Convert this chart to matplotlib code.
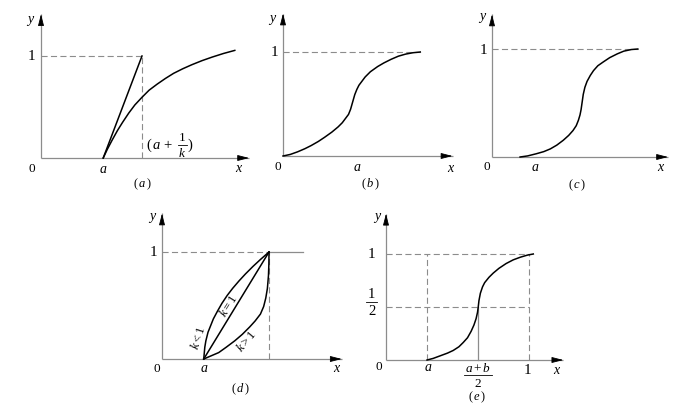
import matplotlib
matplotlib.use("Agg")
import matplotlib.pyplot as plt

plt.rcParams['font.family'] = 'Liberation Serif'
plt.rcParams['mathtext.fontset'] = 'custom'
plt.rcParams['mathtext.rm'] = 'Liberation Serif'
plt.rcParams['mathtext.it'] = 'Liberation Serif:italic'

W, H = 696, 410

# (a) exponential-type curve and the straight line to (a+1/k, 1)
a_pos = 0.61
ak_pos = 0.99
a_curve_x = [0.61, 0.65, 0.70, 0.75, 0.80, 0.86, 0.92, 0.99, 1.06, 1.14, 1.22, 1.30,
             1.39, 1.48, 1.58, 1.68, 1.79, 1.90]
a_curve_y = [0.0, 0.085, 0.18, 0.27, 0.35, 0.44, 0.52, 0.595, 0.665, 0.725, 0.78, 0.83,
             0.875, 0.915, 0.955, 0.99, 1.025, 1.055]

# (b) S-curve starting at origin
b_a = 0.71
b_x = [0.0, 0.07, 0.14, 0.21, 0.27, 0.34, 0.40, 0.47, 0.53, 0.57, 0.60, 0.63, 0.65,
       0.67, 0.69, 0.71, 0.73, 0.76, 0.79, 0.84, 0.91, 0.97, 1.04, 1.11, 1.18, 1.25, 1.32]
b_y = [0.0, 0.015, 0.04, 0.07, 0.10, 0.14, 0.18, 0.23, 0.28, 0.32, 0.36, 0.40, 0.45,
       0.52, 0.59, 0.64, 0.68, 0.72, 0.76, 0.81, 0.86, 0.895, 0.93, 0.96, 0.98, 0.993, 1.0]

# (c) S-curve starting at a
c_a = 0.40
c_x = [0.26, 0.33, 0.41, 0.48, 0.54, 0.60, 0.66, 0.71, 0.75, 0.78, 0.80, 0.815, 0.825,
       0.835, 0.845, 0.86, 0.88, 0.91, 0.94, 0.98, 1.03, 1.09, 1.16, 1.22, 1.29, 1.35]
c_y = [0.0, 0.01, 0.03, 0.05, 0.075, 0.11, 0.155, 0.20, 0.245, 0.29, 0.34, 0.39, 0.44,
       0.51, 0.58, 0.645, 0.70, 0.755, 0.80, 0.845, 0.88, 0.92, 0.955, 0.98, 0.995, 1.0]

# (d) three curves from a to 1
d_a = 0.39
d_b = 1.0
d_upper_x = [0.39, 0.40, 0.41, 0.43, 0.45, 0.48, 0.52, 0.56, 0.61, 0.66, 0.72, 0.78,
             0.85, 0.92, 1.0]
d_upper_y = [0.0, 0.11, 0.17, 0.25, 0.30, 0.375, 0.45, 0.52, 0.595, 0.66, 0.73, 0.795,
             0.865, 0.93, 1.0]
d_lower_x = [0.39, 0.46, 0.53, 0.60, 0.68, 0.75, 0.82, 0.87, 0.92, 0.95, 0.97, 0.985,
             0.995, 0.999, 1.0]
d_lower_y = [0.0, 0.03, 0.06, 0.11, 0.17, 0.23, 0.30, 0.355, 0.42, 0.49, 0.57, 0.66,
             0.78, 0.89, 1.0]

# (e) symmetric S-curve between a and 1
e_a = 0.287
e_mid = 0.643
e_one = 1.0
e_x = [0.287, 0.33, 0.38, 0.43, 0.47, 0.51, 0.54, 0.57, 0.595, 0.615, 0.63, 0.64, 0.645,
       0.65, 0.66, 0.675, 0.69, 0.72, 0.75, 0.79, 0.84, 0.89, 0.94, 0.99, 1.03]
e_y = [0.0, 0.015, 0.04, 0.065, 0.09, 0.125, 0.165, 0.21, 0.27, 0.33, 0.39, 0.45, 0.50,
       0.56, 0.63, 0.69, 0.73, 0.78, 0.82, 0.865, 0.91, 0.945, 0.97, 0.99, 1.0]

AXIS_C = '#8c8c8c'
DASH_C = '#8c8c8c'
DASH = (5.5, 3)

fig = plt.figure(figsize=(W / 100, H / 100), dpi=100)


def panel(ox, oy, ux, uy, xmax, ymax, xmin=-0.35, ymin=-0.45):
    left = ox + xmin * ux
    right = ox + (xmax + 0.1) * ux
    top = oy - (ymax + 0.1) * uy
    bottom = oy - ymin * uy
    ax = fig.add_axes([left / W, (H - bottom) / H, (right - left) / W, (bottom - top) / H])
    ax.set_xlim(xmin, xmax + 0.1)
    ax.set_ylim(ymin, ymax + 0.1)
    ax.axis('off')
    # axes with arrows
    ax.plot([0, xmax], [0, 0], color=AXIS_C, lw=0.9, solid_capstyle='butt')
    ax.plot([0, 0], [0, ymax], color=AXIS_C, lw=0.9, solid_capstyle='butt')
    arr = dict(arrowstyle='-|>,head_length=0.7,head_width=0.18', color='k', lw=0.6,
               shrinkA=0, shrinkB=0)
    ax.annotate('', xy=(xmax, 0), xytext=(xmax - 0.05, 0), arrowprops=arr)
    ax.annotate('', xy=(0, ymax), xytext=(0, ymax - 0.05), arrowprops=arr)
    return ax


def dashed(ax, xs, ys):
    ax.plot(xs, ys, color=DASH_C, lw=0.8, dashes=DASH)


def label(ax, x, y, s, size=10, **kw):
    ax.text(x, y, s, fontsize=size, ha='center', va='center', **kw)


def frac(ax, x, y, num, den, size, half_w):
    # stacked fraction: numerator, bar, denominator
    ax.annotate(num, (x, y), xytext=(0, size * 0.58), textcoords='offset points',
                fontsize=size, ha='center', va='center')
    ax.annotate(den, (x, y), xytext=(0, -size * 0.62), textcoords='offset points',
                fontsize=size, ha='center', va='center')
    ax.plot([x - half_w, x + half_w], [y, y], color='k', lw=0.6)


# ---------- (a)
ax = panel(41, 159, 102, 102, 2.04, 1.41)
dashed(ax, [0, ak_pos], [1, 1])
dashed(ax, [ak_pos, ak_pos], [0, 1])
ax.plot([a_pos, ak_pos], [0, 1], color='k', lw=1.1)
ax.plot(a_curve_x, a_curve_y, color='k', lw=1.1)
label(ax, -0.10, 1.35, '$y$')
label(ax, -0.09, 1.0, '1', 11)
label(ax, -0.09, -0.10, '0', 9.5)
label(ax, a_pos, -0.10, '$a$')
label(ax, 1.94, -0.09, '$x$')
ax.text(1.30, 0.13, r'$(\,a\,+$', fontsize=10.5, ha='right', va='center')
frac(ax, 1.385, 0.13, '1', '$k$', 9.5, 0.045)
ax.text(1.44, 0.13, ')', fontsize=10.5, ha='left', va='center')
label(ax, 0.99, -0.25, r'$(\,a\,)$', 9)

# ---------- (b)
ax = panel(283, 157, 104, 104, 1.63, 1.37)
dashed(ax, [0, b_x[-1]], [1, 1])
ax.plot(b_x, b_y, color='k', lw=1.1)
label(ax, -0.10, 1.32, '$y$')
label(ax, -0.08, 1.0, '1', 11)
label(ax, -0.05, -0.10, '0', 9.5)
label(ax, b_a, -0.10, '$a$')
label(ax, 1.62, -0.11, '$x$')
label(ax, 0.84, -0.26, r'$(\,b\,)$', 9)

# ---------- (c)
ax = panel(492, 158, 108, 108, 1.63, 1.32)
dashed(ax, [0, c_x[-1]], [1, 1])
ax.plot(c_x, c_y, color='k', lw=1.1)
label(ax, -0.09, 1.30, '$y$')
label(ax, -0.08, 1.0, '1', 11)
label(ax, -0.05, -0.08, '0', 9.5)
label(ax, c_a, -0.09, '$a$')
label(ax, 1.57, -0.09, '$x$')
label(ax, 0.79, -0.25, r'$(\,c\,)$', 9)

# ---------- (d)
ax = panel(162, 360, 107, 107, 1.68, 1.36)
dashed(ax, [0, d_b], [1, 1])
ax.plot([d_b, 1.32], [1, 1], color=AXIS_C, lw=0.9)
dashed(ax, [d_b, d_b], [0, 1])
ax.plot(d_upper_x, d_upper_y, color='k', lw=1.1)
ax.plot(d_lower_x, d_lower_y, color='k', lw=1.1)
ax.plot([d_a, d_b], [0, 1], color='k', lw=1.1)
label(ax, -0.09, 1.33, '$y$')
label(ax, -0.08, 1.0, '1', 11)
label(ax, -0.05, -0.08, '0', 9.5)
label(ax, d_a, -0.08, '$a$')
label(ax, 1.64, -0.08, '$x$')
label(ax, 0.34, 0.21, '$k<1$', 9, rotation=72)
label(ax, 0.62, 0.50, '$k=1$', 9, rotation=58)
label(ax, 0.79, 0.17, '$k>1$', 9, rotation=50)
label(ax, 0.73, -0.27, r'$(\,d\,)$', 9)

# ---------- (e)
ax = panel(386, 361, 143, 106, 1.24, 1.38, xmin=-0.3)
dashed(ax, [0, e_one], [1, 1])
dashed(ax, [0, e_one], [0.5, 0.5])
dashed(ax, [e_a, e_a], [0, 1])
dashed(ax, [e_one, e_one], [0, 1])
ax.plot([e_mid, e_mid], [0, 0.5], color=AXIS_C, lw=0.9)
ax.plot(e_x, e_y, color='k', lw=1.1)
label(ax, -0.06, 1.35, '$y$')
label(ax, -0.10, 1.0, '1', 11)
frac(ax, -0.10, 0.55, '1', '2', 10.5, 0.04)
label(ax, -0.05, -0.06, '0', 9.5)
label(ax, e_a + 0.01, -0.06, '$a$')
frac(ax, e_mid, -0.14, '$a+b$', '2', 9.5, 0.095)
label(ax, 0.99, -0.085, '1', 11)
label(ax, 1.20, -0.085, '$x$')
label(ax, 0.64, -0.345, r'$(\,e\,)$', 9)

fig.savefig('out.png', dpi=100)
